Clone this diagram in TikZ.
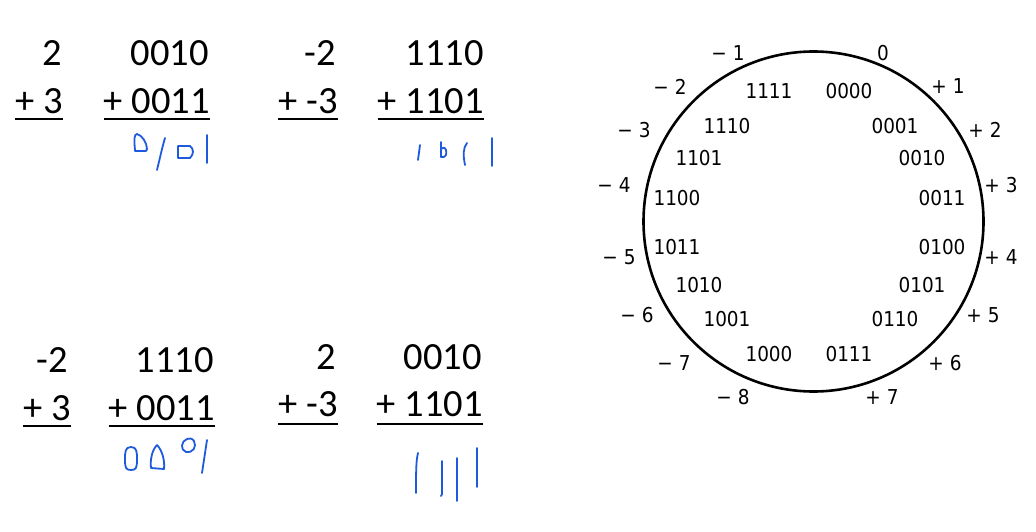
\documentclass[tikz,border=0pt]{standalone}
\usepackage{fontspec}
\setmainfont{Carlito}
\newfontfamily\circfont{DejaVu Sans Condensed}
\definecolor{pen}{RGB}{30,90,220}
\tikzset{
  x=1pt,y=-1pt,
  eq/.style={anchor=base east,inner sep=0pt,font=\fontsize{38.5}{40}\selectfont},
  uline/.style={line width=2.4pt},
  bin/.style={inner sep=0pt,font=\circfont\fontsize{20.5}{22}\selectfont},
  val/.style={inner sep=0pt,font=\circfont\fontsize{20.5}{22}\selectfont},
  hand/.style={draw=pen,line width=1.8pt,line cap=round,line join=round},
}
\begin{document}
\begin{tikzpicture}
\useasboundingbox[fill=white] (0,0) rectangle (1036,532);
% top block
\node[eq] (t2) at (62,66) {2};
\node[eq] (t0010) at (209,66) {0010};
\node[eq] (tm2) at (336,66) {-2};
\node[eq] (t1110) at (484,66) {1110};
\node[eq] (tp3) at (63,114) {+ 3};
\node[eq] (tp0011) at (210,114) {+ 0011};
\node[eq] (tpm3) at (338,114) {+ -3};
\node[eq] (tp1101) at (484,114) {+ 1101};
\foreach \n in {tp3,tp0011,tpm3,tp1101}
  \draw[uline] ([yshift=-5]\n.base west) -- ([yshift=-5]\n.base east);
% bottom block
\node[eq] (bm2) at (68,372) {-2};
\node[eq] (b1110) at (214,372) {1110};
\node[eq] (b2) at (336,369) {2};
\node[eq] (b0010) at (482,369) {0010};
\node[eq] (bp3) at (71,420) {+ 3};
\node[eq] (bp0011) at (215,420) {+ 0011};
\node[eq] (bpm3) at (338,416) {+ -3};
\node[eq] (bp1101) at (483,416) {+ 1101};
\foreach \n in {bp3,bp0011}
  \draw[uline] ([yshift=-6]\n.base west) -- ([yshift=-6]\n.base east);
\foreach \n in {bpm3,bp1101}
  \draw[uline] ([yshift=-8]\n.base west) -- ([yshift=-8]\n.base east);
% handwriting top-left 0101
\draw[hand] (135,150) .. controls (134,140) and (134,134) .. (137,134) .. controls (142,135) and (147,143) .. (147,149) -- (146,151) -- (135,151) -- cycle;
\draw[hand] (157,170) .. controls (160,158) and (162,148) .. (165,138);
\draw[hand] (178,146) -- (178,158) -- (190,158) .. controls (194,154) and (194,149) .. (190,146) -- cycle;
\draw[hand] (207,135) -- (207,163);
% handwriting top-right 1011
\draw[hand] (418,160) -- (420,145);
\draw[hand] (441,142) -- (441,157) .. controls (446,158) and (447,154) .. (446,150) .. controls (445,147) and (442,147) .. (441,149);
\draw[hand] (465,165) .. controls (463,155) and (463,148) .. (467,143);
\draw[hand] (492,138) -- (492,166);
% handwriting bottom-left 0001
\draw[hand] (131,447) .. controls (125,447) and (125,452) .. (125,460) .. controls (125,468) and (126,470) .. (131,470) .. controls (136,470) and (137,468) .. (137,460) .. controls (137,452) and (137,447) .. (131,447);
\draw[hand] (157,445) .. controls (152,450) and (150,460) .. (151,468) -- (164,469) .. controls (165,460) and (162,450) .. (157,445);
\draw[hand] (187,439) .. controls (181,441) and (180,450) .. (186,452) .. controls (193,453) and (197,447) .. (194,441) .. controls (192,438) and (189,438) .. (187,439);
\draw[hand] (202,473) -- (207,440);
% handwriting bottom-right 1111
\draw[hand] (416,493) .. controls (416,472) and (416,461) .. (418,453);
\draw[hand] (442,461) -- (442,494) -- (441,496);
\draw[hand] (457,458) -- (457,501);
\draw[hand] (477,448) -- (477,487);
% circle
\node[draw,circle,line width=2.6pt,minimum size=340pt,inner sep=0pt] (ring) at (813.5,221.5) {};
% binary labels
\node[bin] (c1111) at (769,91) {1111};
\node[bin] (c0000) at (849,91) {0000};
\node[bin] (c0001) at (895,126) {0001};
\node[bin] (c1110) at (727,126) {1110};
\node[bin] (c1101) at (699,158) {1101};
\node[bin] (c0010) at (922,158) {0010};
\node[bin] (c1100) at (677,198) {1100};
\node[bin] (c0011) at (942,198) {0011};
\node[bin] (c1011) at (677,247) {1011};
\node[bin] (c0100) at (942,247) {0100};
\node[bin] (c1010) at (699,285) {1010};
\node[bin] (c0101) at (922,285) {0101};
\node[bin] (c1001) at (727,319) {1001};
\node[bin] (c0110) at (895,319) {0110};
\node[bin] (c1000) at (769,354) {1000};
\node[bin] (c0111) at (849,354) {0111};
% value labels
\node[val] (vm1) at (728,53) {− 1};
\node[val] (v0) at (883,53) {0};
\node[val] (vp1) at (948,86) {+ 1};
\node[val] (vm2) at (670,87) {− 2};
\node[val] (vm3) at (634,130) {− 3};
\node[val] (vp2) at (985,130) {+ 2};
\node[val] (vm4) at (614,185) {− 4};
\node[val] (vp3) at (1001,185) {+ 3};
\node[val] (vm5) at (619,257) {− 5};
\node[val] (vp4) at (1001,257) {+ 4};
\node[val] (vm6) at (637,315) {− 6};
\node[val] (vp5) at (983,315) {+ 5};
\node[val] (vm7) at (674,363) {− 7};
\node[val] (vp6) at (945,363) {+ 6};
\node[val] (vm8) at (733,397) {− 8};
\node[val] (vp7) at (882,397) {+ 7};
\end{tikzpicture}
\end{document}
